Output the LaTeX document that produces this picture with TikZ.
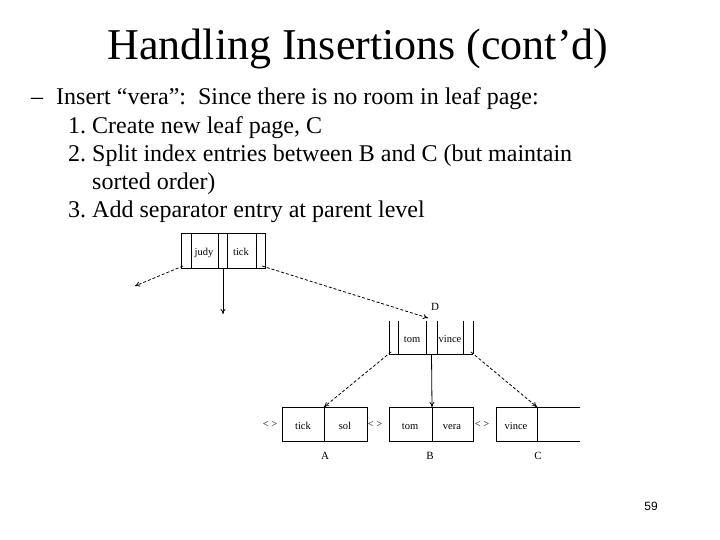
\documentclass[tikz,border=0pt]{standalone}
\usepackage{fontspec}
\setmainfont{Liberation Serif}
\newfontfamily\numfont{Liberation Sans}
\usetikzlibrary{arrows.meta}
\frenchspacing
\begin{document}
\begin{tikzpicture}[x=1pt,y=-1pt,
  box/.style={draw=black,line width=0.8pt},
  ptr/.style={draw=black,line width=0.8pt,-{To[length=5pt,width=5pt]}},
  dptr/.style={ptr,dash pattern=on 3pt off 2pt},
  lbl/.style={anchor=base,inner sep=0pt,font=\fontsize{10.5}{12}\selectfont},
  body/.style={anchor=base west,inner sep=0pt,font=\fontsize{24}{28}\selectfont}]
\useasboundingbox[fill=white] (0,0) rectangle (720,540);
% title
\node[anchor=base,inner sep=0pt,font=\fontsize{44}{50}\selectfont] (title) at (358,60) {Handling Insertions (cont’d)};
% body text
\node[body] (dash) at (31,105) {–};
\node[body] (l1) at (56,105) {Insert “vera”:\ \ Since there is no room in leaf page:};
\node[body] (l2) at (68,134) {1. Create new leaf page, C};
\node[body] (l3) at (68,162) {2. Split index entries between B and C (but maintain};
\node[body] (l4) at (92,190) {sorted order)};
\node[body] (l5) at (68,218) {3. Add separator entry at parent level};
% top index node
\draw[box] (181,233) rectangle (265,268);
\foreach \x in {191,218,227,256} \draw[box] (\x,233) -- (\x,268);
\node[lbl] (judy) at (204,255) {judy};
\node[lbl] (tick0) at (241,255) {tick};
\coordinate (tl) at (183,266);
\coordinate (tm) at (223,268);
\coordinate (tr) at (262,266);
\coordinate (tlend) at (135,286);
\coordinate (tmend) at (223,314);
% node D
\foreach \x in {389,398,426,437,463,473} \draw[box] (\x,321) -- (\x,354);
\draw[box] (389,354) -- (473,354);
\node[lbl] (tomD) at (412,342) {tom};
\node[lbl] (vinceD) at (450,342) {vince};
\node[inner sep=0pt,font=\fontsize{11}{12}\selectfont] (Dlab) at (435,307) {D};
\coordinate (Din) at (428,318);
\coordinate (Dl) at (391,352);
\coordinate (Dm) at (431.5,354);
\coordinate (Dr) at (471,352);
% leaves
\draw[box] (282,407) rectangle (367,441);
\draw[box] (324,407) -- (324,441);
\draw[box] (389,407) rectangle (473,441);
\draw[box] (432,407) -- (432,441);
\draw[box] (580,407) -- (496,407) -- (496,441) -- (580,441);
\draw[box] (537,407) -- (537,441);
\coordinate (Atop) at (324,407);
\coordinate (Btop) at (432,407);
\coordinate (Ctop) at (537,407);
\node[lbl] (tickA) at (303,429) {tick};
\node[lbl] (solA) at (345,429) {sol};
\node[lbl] (tomB) at (410,429) {tom};
\node[lbl] (veraB) at (452,429) {vera};
\node[lbl] (vinceC) at (516,429) {vince};
\node[lbl] (lk1) at (270,427) {< >};
\node[lbl] (lk2) at (375,427) {< >};
\node[lbl] (lk3) at (482,427) {< >};
\node[inner sep=0pt,font=\fontsize{11}{12}\selectfont] (Alab) at (325,456) {A};
\node[inner sep=0pt,font=\fontsize{11}{12}\selectfont] (Blab) at (430,456) {B};
\node[inner sep=0pt,font=\fontsize{11}{12}\selectfont] (Clab) at (538,456) {C};
% connectors
\draw[dptr] (tl) -- (tlend);
\draw[ptr] (tm) -- (tmend);
\draw[dptr] (tr) -- (Din);
\draw[dptr] (Dl) -- (Atop);
\draw[ptr] (Dm) -- (Btop);
\draw[dptr] (Dr) -- (Ctop);
% page number
\node[inner sep=0pt,font=\numfont\fontsize{12}{14}\selectfont] (pg) at (651,506) {59};
\end{tikzpicture}
\end{document}
